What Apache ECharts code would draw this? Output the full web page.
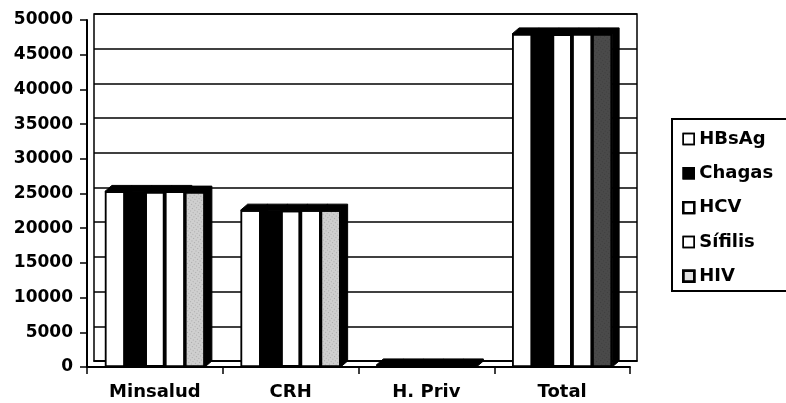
<!DOCTYPE html>
<html>
<head>
<meta charset="utf-8">
<script src="https://cdn.jsdelivr.net/npm/echarts@6/dist/echarts.min.js"></script>
<style>
html,body{margin:0;padding:0;background:#fff;}
#c{width:786px;height:403px;}
</style>
</head>
<body>
<div id="c"></div>
<script>
const categories = ['Minsalud', 'CRH', 'H. Priv', 'Total'];
const seriesNames = ['HBsAg', 'Chagas', 'HCV', 'Sífilis', 'HIV'];
const hbsag  = [25300, 22600, 300, 48000];
const chagas = [25300, 22600, 300, 48000];
const hcv    = [25300, 22600, 300, 48000];
const sifilis= [25300, 22600, 300, 48000];
const hiv    = [25200, 22600, 300, 48000];
const yTicks = { min: 0, max: 50000, interval: 5000 };

const FONT = 'DejaVu Sans';
const BAR_W = 20, DEPTH_X = 7, DEPTH_Y = -6;
const chart = echarts.init(document.getElementById('c'), null, { renderer: 'canvas' });

const values = [hbsag, chagas, hcv, sifilis, hiv];
const fills = ['#ffffff', '#000000', '#ffffff', '#ffffff', '#c4c4c4'];
const hivDecal = {
  symbol: 'rect',
  symbolSize: 0.6,
  dashArrayX: [1, 2],
  dashArrayY: [1, 2],
  rotation: 0.6,
  color: 'rgba(0,0,0,0.6)'
};

const series = [];
values.forEach((arr, i) => {
  // 3D depth (top + side faces) drawn in black
  series.push({
    name: '_depth' + i,
    type: 'custom',
    xAxisIndex: 1,
    yAxisIndex: 1,
    silent: true,
    z: 5,
    data: arr.map((v, k) => [k, v]),
    renderItem: function (params, api) {
      const top = api.coord([api.value(0), api.value(1)]);
      const base = api.coord([api.value(0), 0]);
      const n = values.length;
      const x0 = top[0] - (n * BAR_W) / 2 + i * BAR_W;
      const x1 = x0 + BAR_W;
      return {
        type: 'polygon',
        shape: { points: [
          [x0, top[1]], [x0 + DEPTH_X, top[1] + DEPTH_Y], [x1 + DEPTH_X, top[1] + DEPTH_Y],
          [x1 + DEPTH_X, base[1] + DEPTH_Y], [x1, base[1]], [x1, top[1]]
        ] },
        style: { fill: '#000', stroke: '#000', lineWidth: 1 }
      };
    }
  });
  // front face
  series.push({
    name: seriesNames[i],
    type: 'bar',
    xAxisIndex: 1,
    yAxisIndex: 1,
    barWidth: BAR_W,
    barGap: '0%',
    data: arr,
    z: 5,
    itemStyle: {
      color: i === 4 ? function (p) { return p.dataIndex === 3 ? '#4a4a4a' : '#cfcfcf'; } : fills[i],
      borderColor: '#000',
      borderWidth: i === 2 ? 2 : 1.5,
      decal: i === 4 ? hivDecal : { symbol: 'none' }
    }
  });
});

chart.setOption({
  animation: false,
  backgroundColor: '#fff',
  aria: { enabled: true, decal: { show: true } },
  legend: {
    orient: 'vertical',
    left: 682,
    top: 130,
    padding: 0,
    itemWidth: 11,
    itemHeight: 11,
    itemGap: 16.3,
    icon: 'rect',
    data: seriesNames.map((n, i) => ({
      name: n,
      itemStyle: i === 4 ? { color: '#e0e0e0', borderColor: '#000', borderWidth: 2.5, decal: { symbol: 'none' } }
                         : { color: fills[i], borderColor: '#000', borderWidth: i === 2 ? 2.2 : 1.5, decal: { symbol: 'none' } }
    })),
    textStyle: { fontFamily: FONT, fontWeight: 'bold', fontSize: 18, color: '#000', lineHeight: 18 }
  },
  graphic: [{
    type: 'rect',
    shape: { x: 672, y: 119, width: 130, height: 172 },
    style: { fill: 'none', stroke: '#000', lineWidth: 2 },
    z: 10
  }],
  grid: [
    { left: 94, right: 149, top: 14, bottom: 42, show: true, borderColor: '#000', borderWidth: 1.5, backgroundColor: 'transparent' },
    { left: 87, right: 156, top: 20, bottom: 36 }
  ],
  xAxis: [
    { type: 'category', gridIndex: 0, data: categories, axisLine: { show: true, lineStyle: { color: '#000', width: 1.5 } }, axisTick: { show: false }, axisLabel: { show: false }, splitLine: { show: false } },
    { type: 'category', gridIndex: 1, data: categories,
      axisLine: { show: true, lineStyle: { color: '#000', width: 2 } },
      axisTick: { show: true, length: 7, lineStyle: { color: '#000', width: 1.5 } },
      axisLabel: { margin: 16, color: '#000', fontFamily: FONT, fontWeight: 'bold', fontSize: 18 } }
  ],
  yAxis: [
    { type: 'value', gridIndex: 0, min: yTicks.min, max: yTicks.max, interval: yTicks.interval,
      axisLine: { show: false }, axisTick: { show: false }, axisLabel: { show: false },
      splitLine: { show: true, lineStyle: { color: '#000', width: 1.5 } } },
    { type: 'value', gridIndex: 1, min: yTicks.min, max: yTicks.max, interval: yTicks.interval,
      axisLine: { show: true, lineStyle: { color: '#000', width: 2 } },
      axisTick: { show: true, length: 7, lineStyle: { color: '#000', width: 1.5 } },
      axisLabel: { margin: 14, color: '#000', fontFamily: FONT, fontWeight: 'bold', fontSize: 17, formatter: v => String(v) },
      splitLine: { show: false } }
  ],
  series: series
});
</script>
</body>
</html>
